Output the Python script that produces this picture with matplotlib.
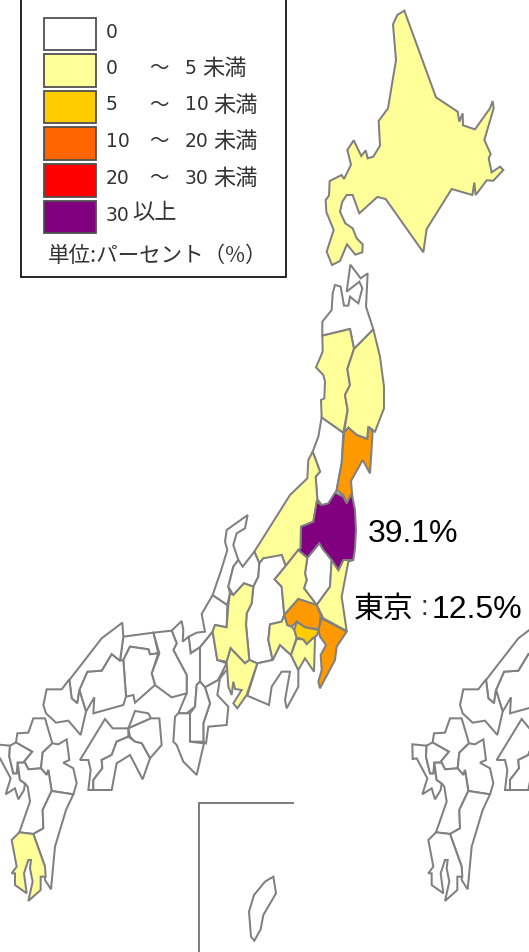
import matplotlib
matplotlib.use("Agg")
import matplotlib.pyplot as plt
from matplotlib.patches import Polygon, Rectangle

WHITE, YEL, GOLD, ORG, PUR = "#FFFFFF", "#FFFF99", "#FFCC00", "#FF9900", "#800080"
EDGE = "#808080"

# zoomed-reading frames: (x origin, y origin); coordinates are 3x image pixels
F_HOK = (300, 0)
F_TOH = (290, 260)
F_KAN = (200, 490)
F_WST = (0, 610)
F_KYU = (-16.67, 610)
F_OKI = (190, 790)

hokkaido = [(313,32),(292,45),(279,73),(288,180),(264,325),(236,363),(240,437),(220,470),(203,475),(197,451),(184,468),(161,421),(142,450),(153,494),(132,537),(125,525),(89,543),(87,587),(77,600),(79,636),(101,690),(80,755),(96,795),(120,783),(141,733),(166,764),(187,757),(188,733),(170,715),(158,685),(136,670),(120,635),(127,605),(140,585),(158,585),(178,640),(232,591),(257,597),(370,757),(380,687),(455,567),(517,585),(523,548),(527,585),(560,541),(580,542),(610,510),(600,500),(575,517),(566,475),(572,462),(553,420),(581,325),(578,303),(570,325),(525,388),(489,376),(488,340),(478,365),(473,335),(408,292)]

aomori = [(181,14),(170,95),(208,65),(217,85),(205,130),(180,110),(175,137),(162,137),(152,80),(135,75),(128,100),(125,150),(97,185),(97,227),(180,207),(192,267),(250,208),(228,140),(233,40),(212,55)]
akita = [(97,227),(180,207),(192,267),(172,327),(180,375),(165,405),(173,450),(160,518),(95,472),(93,420),(103,415),(105,365),(100,345),(78,322),(98,275)]
iwate = [(192,267),(250,208),(270,290),(282,380),(282,445),(255,515),(235,500),(232,537),(200,525),(175,503),(162,518),(173,450),(165,405),(180,375),(172,327)]
miyagi = [(162,518),(175,503),(200,525),(232,537),(235,500),(248,515),(240,640),(218,600),(183,663),(187,710),(172,732),(160,705),(140,690),(155,610)]
yamagata = [(95,472),(160,518),(155,610),(140,690),(125,735),(95,735),(82,718),(77,650),(90,635),(68,575),(85,530)]
niigata = [(338,-115),(360,-55),(347,-40),(352,28),(350,40),(340,95),(303,110),(302,175),(295,180),(257,228),(245,195),(215,205),(190,205),(178,220),(163,185),(270,15),(322,-35),(325,-90)]

fukushima = [(350,35),(365,45),(385,40),(405,8),(430,20),(440,40),(455,10),(465,60),(468,120),(465,175),(460,210),(430,210),(415,240),(395,210),(370,180),(358,160),(322,203),(295,180),(302,175),(303,110),(340,95)]
ibaraki = [(460,210),(430,210),(415,240),(395,210),(390,290),(350,345),(365,375),(370,385),(440,423),(425,320),(445,215)]
tochigi = [(322,203),(358,160),(395,210),(390,290),(350,345),(312,295),(320,270),(315,250)]
gunma = [(295,180),(322,203),(315,250),(320,270),(312,295),(350,345),(295,327),(253,375),(245,290),(224,268),(257,228)]
saitama = [(295,327),(350,345),(362,375),(358,418),(315,412),(290,395),(275,410),(262,405),(253,375)]
tokyo = [(290,395),(315,412),(357,420),(350,437),(338,445),(320,462),(310,448),(290,443),(283,420)]
chiba = [(365,385),(440,425),(410,470),(405,510),(360,595),(355,575),(365,540),(362,495),(378,465),(360,440),(355,420)]
kanagawa = [(290,447),(310,448),(320,462),(338,445),(345,445),(342,545),(315,505),(295,540),(273,495)]
yamanashi = [(210,403),(245,395),(253,375),(262,405),(275,410),(283,420),(290,443),(273,495),(240,465),(218,510),(205,450)]
nagano = [(178,220),(190,205),(245,195),(257,228),(224,268),(245,290),(253,375),(245,395),(210,403),(205,450),(218,510),(172,520),(148,510),(138,405),(140,370),(155,340),(160,290),(175,260)]
ishikawa = [(143,75),(80,120),(75,155),(82,180),(62,245),(38,315),(82,345),(90,310),(85,290),(100,230),(115,210),(100,165),(110,130),(135,115)]
toyama = [(163,185),(178,220),(175,260),(160,290),(132,280),(100,315),(85,290),(100,230),(115,210),(128,230)]
gifu = [(160,290),(155,340),(140,370),(138,405),(148,510),(135,520),(92,475),(80,515),(52,510),(38,425),(45,405),(80,412),(85,345),(90,310),(100,315),(132,280)]
aichi = [(92,475),(135,520),(148,510),(172,520),(140,615),(112,655),(100,640),(125,600),(105,597),(100,575),(95,615),(85,590),(80,515)]
shizuoka = [(218,510),(240,465),(273,495),(295,540),(295,590),(260,655),(255,630),(270,545),(245,545),(215,590),(207,645),(142,617),(172,520)]

fukui = [(638,-45),(682,-15),(680,52),(645,45),(638,65),(600,112),(572,130),(566,80),(590,68),(615,65),(605,12)]
kyoto = [(515,62),(545,33),(550,60),(548,95),(566,80),(572,130),(600,112),(600,215),(590,225),(585,290),(560,310),(535,310),(560,250),(560,195),(520,120),(530,100)]
shiga = [(600,112),(638,65),(652,150),(680,160),(655,210),(615,232),(600,215)]
mie = [(615,232),(655,210),(680,160),(686,172),(660,205),(652,255),(685,290),(680,345),(625,350),(618,400),(610,395),(610,340),(630,280)]
nara = [(600,215),(615,232),(630,280),(610,340),(610,395),(570,395),(570,310),(585,290),(590,225)]
wakayama = [(535,310),(570,310),(570,395),(612,400),(590,495),(550,455),(530,405),(520,395),(525,320)]
hyogo = [(460,68),(515,62),(530,100),(520,120),(560,195),(560,250),(515,262),(465,225),(455,190),(478,130)]
tottori = [(370,80),(460,68),(475,130),(450,133),(445,118),(390,110),(370,150),(360,152)]
okayama = [(370,150),(390,110),(445,118),(450,133),(475,130),(455,190),(465,225),(405,278),(400,255),(378,260)]
hiroshima = [(262,185),(305,182),(335,132),(360,152),(370,150),(378,260),(370,285),(280,310),(283,262),(258,305),(238,240)]
shimane = [(367,38),(370,80),(360,152),(335,132),(305,182),(262,185),(238,240),(232,280),(215,265),(208,210),(305,85)]
yamaguchi = [(140,238),(185,238),(208,208),(215,265),(232,280),(238,240),(258,305),(242,375),(205,332),(168,338),(138,310),(130,285)]
ehime = [(240,450),(315,327),(338,355),(385,355),(385,380),(350,395),(335,435),(305,450),(307,475),(280,510),(280,540),(265,540),(272,480),(265,450)]
kagawa = [(405,303),(445,310),(453,325),(385,355),(395,330)]
tokushima = [(385,355),(453,325),(478,325),(485,405),(450,445),(425,400),(405,395),(390,380)]
kochi = [(280,540),(280,510),(307,475),(305,450),(335,435),(350,395),(385,380),(405,395),(425,400),(450,445),(428,508),(390,435),(350,460),(335,540)]

nagasaki = [(37,403),(80,407),(78,440),(90,490),(100,490),(103,458),(110,510),(125,520),(122,540),(105,568),(95,535),(67,553),(82,505),(50,445),(38,447)]
saga = [(80,407),(98,397),(147,425),(120,458),(103,458),(100,490),(90,490),(78,440)]
fukuoka = [(98,397),(102,370),(135,368),(150,325),(185,325),(207,400),(178,428),(173,475),(135,478),(125,458),(120,458),(147,425)]
oita = [(207,400),(225,403),(250,388),(258,450),(240,458),(270,475),(280,520),(270,553),(205,543),(195,480),(190,495),(173,475),(178,428)]
kumamoto = [(135,478),(173,475),(190,495),(195,480),(205,543),(178,600),(180,655),(150,672),(108,667),(140,575),(133,530),(125,520),(110,510),(103,458),(125,458)]
miyazaki = [(205,543),(270,553),(248,600),(215,710),(203,838),(185,810),(185,770),(150,672),(180,655),(178,600)]
kagoshima = [(108,667),(150,672),(185,770),(187,800),(172,800),(172,840),(135,873),(148,815),(140,775),(143,750),(135,750),(122,790),(130,850),(95,825),(95,790),(85,790),(100,770),(85,690)]

okinawa = [(250,260),(258,310),(220,375),(212,418),(193,452),(183,440),(177,365),(192,315),(225,275)]
okinawa_frame = [(310,38),(28,38),(28,490)]

north_regions = [
    (hokkaido, F_HOK, YEL), (aomori, F_TOH, WHITE), (yamagata, F_TOH, WHITE), (akita, F_TOH, YEL),
    (iwate, F_TOH, YEL), (niigata, F_KAN, YEL), (miyagi, F_TOH, ORG),
    (ishikawa, F_KAN, WHITE), (toyama, F_KAN, WHITE), (nagano, F_KAN, WHITE), (tochigi, F_KAN, WHITE),
    (shizuoka, F_KAN, WHITE), (gunma, F_KAN, YEL), (ibaraki, F_KAN, YEL), (gifu, F_KAN, YEL),
    (aichi, F_KAN, YEL), (yamanashi, F_KAN, YEL), (kanagawa, F_KAN, YEL), (saitama, F_KAN, ORG),
    (chiba, F_KAN, ORG), (tokyo, F_KAN, GOLD), (fukushima, F_KAN, PUR),
    (okinawa, F_OKI, WHITE),
]
west_regions = [fukui, kyoto, shiga, mie, nara, wakayama, hyogo, tottori, okayama, hiroshima,
                shimane, yamaguchi, ehime, kagawa, tokushima, kochi]
kyushu_regions = [nagasaki, saga, fukuoka, oita, kumamoto, miyazaki]
kagoshima_fill = YEL
inset_shift = 416.67   # the western map repeats, cut off by the right edge

legend_colors = ["#FFFFFF", "#FFFF99", "#FFCC00", "#FF6600", "#FF0000", "#800080"]
legend_low = ["0", "0", "5", "10", "20", "30"]
legend_high = ["", "5", "10", "20", "30", ""]
legend_unit = "単位:パーセント（%）"
label_fukushima = "39.1%"
label_tokyo_name = "東京"
label_tokyo_value = "12.5%"

def px(points, frame, shift=0):
    return [(frame[0] + x / 3 + shift, frame[1] + y / 3) for x, y in points]

fig = plt.figure(figsize=(5.29, 9.52), dpi=100)
ax = fig.add_axes([0, 0, 1, 1])
ax.set_xlim(0, 529)
ax.set_ylim(952, 0)
ax.axis("off")

def draw(points, frame, color, shift=0):
    ax.add_patch(Polygon(px(points, frame, shift), closed=True, fc=color, ec=EDGE, lw=1.45, joinstyle="miter"))

for pts in west_regions:
    draw(pts, F_WST, WHITE)
    draw(pts, F_WST, WHITE, inset_shift)
for pts in kyushu_regions:
    draw(pts, F_KYU, WHITE)
    draw(pts, F_KYU, WHITE, inset_shift)
draw(kagoshima, F_KYU, kagoshima_fill)
draw(kagoshima, F_KYU, WHITE, inset_shift)
for pts, frame, color in north_regions:
    draw(pts, frame, color)
xs, ys = zip(*px(okinawa_frame, F_OKI))
ax.plot(xs, ys, color=EDGE, lw=1.45, solid_joinstyle="miter")

# legend box
ax.add_patch(Rectangle((21, -5), 265, 282, fc="white", ec="black", lw=1.2, zorder=5))
JP = ["Noto Sans CJK JP", "DejaVu Sans"]
GR = "#333333"
rows_y = [17.7, 54, 90.5, 127, 164, 200.7]
def ltxt(x, y, s, size=13.5, fam="DejaVu Sans", ha="left"):
    ax.text(x, y, s, family=fam, fontsize=size, color=GR, va="center", ha=ha, zorder=7)
for y, c, lo, hi in zip(rows_y, legend_colors, legend_low, legend_high):
    ax.add_patch(Rectangle((43.5, y), 52, 32.5, fc=c, ec="#505050", lw=1.3, zorder=6))
    ym = y + 14.5
    ltxt(106, ym, lo)
    if hi:
        ltxt(159, ym, "～", 14, JP, "center")
        ltxt(185, ym, hi)
        ltxt(202 if len(hi) == 1 else 213, ym, "未満", 16, JP)
ltxt(132, rows_y[5] + 12, "以上", 16, JP)
ax.text(158, 256, legend_unit, family=JP, fontsize=15.5, color=GR, va="center", ha="center", zorder=7)

LAB = ["Liberation Sans", "Noto Sans CJK JP"]
ax.text(368, 534, label_fukushima, family=LAB, fontsize=23, color="black", va="center", ha="left")
ax.text(354, 609, label_tokyo_name, family=JP, fontsize=21.5, color="black", va="center", ha="left")
ax.text(424, 608, ":", family=LAB, fontsize=20, color="#333333", va="center", ha="center")
ax.text(431.5, 610, label_tokyo_value, family=LAB, fontsize=23, color="black", va="center", ha="left")

fig.savefig("out.png", dpi=100)
